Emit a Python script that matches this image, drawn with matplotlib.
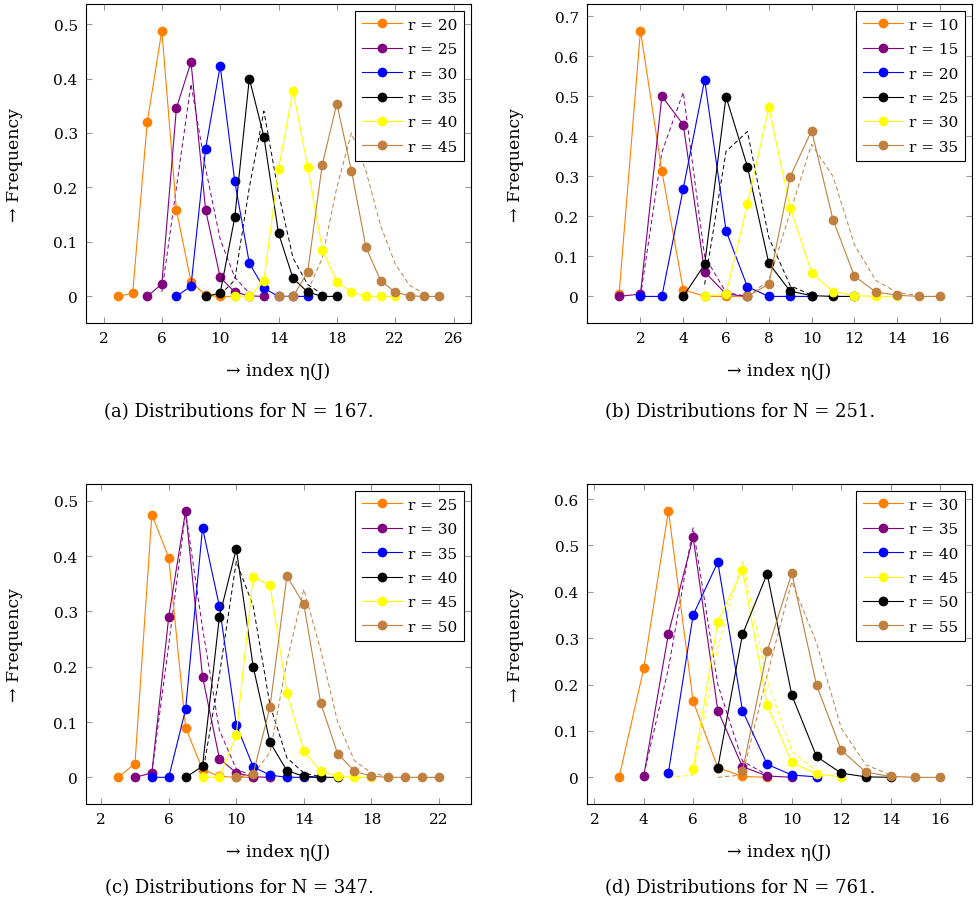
import numpy as np
import matplotlib.pyplot as plt
from matplotlib.ticker import FuncFormatter

plt.rcParams['font.family'] = ['DejaVu Serif']
plt.rcParams['font.size'] = 11

colors = {'orange': '#FF8000', 'purple': '#800080', 'blue': '#0000FF',
          'black': '#000000', 'yellow': '#FFFF00', 'brown': '#BF8040'}

# (a) N = 167 : radius, colour, first index, frequencies
a_r = [20, 25, 30, 35, 40, 45]
a_colors = ['orange', 'purple', 'blue', 'black', 'yellow', 'brown']
a_first = [3, 5, 7, 9, 11, 14]
a_f20 = [0, 0.006, 0.32, 0.488, 0.158, 0.027, 0.002, 0, 0]
a_f25 = [0, 0.023, 0.346, 0.43, 0.159, 0.035, 0.008, 0.001, 0]
a_f30 = [0, 0.019, 0.271, 0.423, 0.211, 0.061, 0.015, 0, 0, 0]
a_f35 = [0, 0.006, 0.145, 0.40, 0.293, 0.116, 0.033, 0.008, 0, 0]
a_f40 = [0, 0, 0.029, 0.234, 0.378, 0.238, 0.086, 0.027, 0.008, 0, 0, 0]
a_f45 = [0, 0, 0.045, 0.242, 0.354, 0.231, 0.09, 0.029, 0.008, 0.001, 0, 0]
# reference curves (dashed)
a_ref_colors = ['purple', 'black', 'brown']
a_ref_first = [6, 10, 16]
a_ref25 = [0.008, 0.2, 0.39, 0.235, 0.105, 0.035, 0.006]
a_ref35 = [0.003, 0.03, 0.2, 0.34, 0.19, 0.07, 0.022, 0.004]
a_ref45 = [0.01, 0.07, 0.2, 0.30, 0.23, 0.13, 0.06, 0.02, 0.005]

# (b) N = 251
b_r = [10, 15, 20, 25, 30, 35]
b_colors = ['orange', 'purple', 'blue', 'black', 'yellow', 'brown']
b_first = [1, 1, 2, 4, 5, 7]
b_f10 = [0.006, 0.664, 0.313, 0.017, 0, 0, 0]
b_f15 = [0, 0.006, 0.50, 0.429, 0.061, 0.006, 0]
b_f20 = [0, 0, 0.269, 0.541, 0.164, 0.024, 0, 0, 0]
b_f25 = [0, 0.08, 0.499, 0.324, 0.083, 0.013, 0.002, 0, 0]
b_f30 = [0, 0.006, 0.23, 0.472, 0.221, 0.059, 0.012, 0.002, 0, 0]
b_f35 = [0, 0.031, 0.299, 0.414, 0.192, 0.051, 0.011, 0.003, 0, 0]
b_ref_colors = ['purple', 'black', 'brown']
b_ref_first = [2, 5, 7]
b_ref15 = [0, 0.36, 0.51, 0.10, 0.01, 0]
b_ref25 = [0.03, 0.362, 0.412, 0.147, 0.027, 0.003]
b_ref35 = [0, 0.04, 0.21, 0.38, 0.30, 0.13, 0.04, 0.01, 0.002]

# (c) N = 347
c_r = [25, 30, 35, 40, 45, 50]
c_colors = ['orange', 'purple', 'blue', 'black', 'yellow', 'brown']
c_first = [3, 4, 5, 7, 8, 10]
c_f25 = [0, 0.025, 0.475, 0.397, 0.09, 0.014, 0.002, 0, 0]
c_f30 = [0, 0.008, 0.29, 0.482, 0.182, 0.034, 0.008, 0.001, 0]
c_f35 = [0, 0, 0.123, 0.451, 0.309, 0.095, 0.019, 0.004, 0, 0, 0]
c_f40 = [0, 0.02, 0.29, 0.413, 0.20, 0.063, 0.012, 0.002, 0, 0]
c_f45 = [0, 0, 0.077, 0.363, 0.347, 0.153, 0.047, 0.011, 0.002, 0, 0]
c_f50 = [0, 0.006, 0.128, 0.364, 0.3125, 0.134, 0.043, 0.011, 0.002, 0, 0, 0, 0]
c_ref_colors = ['purple', 'black', 'brown']
c_ref_first = [5, 8, 11]
c_ref30 = [0.008, 0.24, 0.48, 0.27, 0.085, 0.015, 0.002]
c_ref40 = [0.005, 0.185, 0.39, 0.31, 0.13, 0.035, 0.008, 0.001]
c_ref50 = [0.005, 0.045, 0.21, 0.34, 0.23, 0.1, 0.03, 0.008, 0.001]

# (d) N = 761
d_r = [30, 35, 40, 45, 50, 55]
d_colors = ['orange', 'purple', 'blue', 'yellow', 'black', 'brown']
d_first = [3, 4, 5, 6, 7, 8]
d_f30 = [0, 0.235, 0.575, 0.164, 0.021, 0.002, 0]
d_f35 = [0.003, 0.31, 0.518, 0.144, 0.023, 0.003, 0]
d_f40 = [0.01, 0.35, 0.464, 0.144, 0.028, 0.005, 0.001]
d_f45 = [0.018, 0.336, 0.447, 0.156, 0.032, 0.007, 0.001]
d_f50 = [0.021, 0.308, 0.439, 0.177, 0.045, 0.009, 0.001, 0]
d_f55 = [0.014, 0.272, 0.44, 0.199, 0.059, 0.011, 0.002, 0, 0]
d_ref_colors = ['purple', 'yellow', 'brown']
d_ref_first = [4, 5, 7]
d_ref35 = [0.005, 0.235, 0.538, 0.2, 0.035, 0.005]
d_ref45 = [0, 0.005, 0.28, 0.469, 0.21, 0.056, 0.013]
d_ref55 = [0, 0.005, 0.22, 0.422, 0.29, 0.106, 0.027, 0.005]

W, H = 977, 903
fig = plt.figure(figsize=(W / 100, H / 100), dpi=100)


def add_panel(left, top, right, bottom, radii, cols, first, freqs,
              ref_colors, ref_first, refs, xticks, yticks, caption,
              xlabel_y, caption_y):
    ax = fig.add_axes([left / W, 1 - bottom / H, (right - left) / W, (bottom - top) / H])
    for col, x0, ys in zip(ref_colors, ref_first, refs):
        ax.plot(np.arange(x0, x0 + len(ys)), ys, color=colors[col],
                lw=0.7, ls=(0, (4.5, 3)), zorder=2)
    for col, r, x0, ys in zip(cols, radii, first, freqs):
        ax.plot(np.arange(x0, x0 + len(ys)), ys, color=colors[col], lw=0.8,
                marker='o', ms=6, label=f'r = {r}', zorder=3)
    ax.margins(0.1)
    ax.set_xticks(xticks)
    ax.set_yticks(yticks)
    ax.yaxis.set_major_formatter(FuncFormatter(lambda v, p: '0' if abs(v) < 1e-9 else f'{v:g}'))
    ax.tick_params(direction='in', top=True, right=True, length=4.5,
                   width=0.8, color='#999999', pad=6)
    for s in ax.spines.values():
        s.set_linewidth(0.8)
    leg = ax.legend(loc='upper right', fancybox=False, edgecolor='black',
                    framealpha=1, borderaxespad=0.45, handlelength=2.6,
                    handletextpad=0.4, labelspacing=0.68, borderpad=0.45)
    leg.get_frame().set_linewidth(0.8)
    cx = (left + right) / 2
    fig.text(cx / W, 1 - xlabel_y / H, '→ index η(J)', ha='center', va='center',
             fontsize=12.5)
    # subfigure caption is centred under axes plus y label
    fig.text((cx - 39.5) / W, 1 - caption_y / H, caption, ha='center', va='center',
             fontsize=13)
    fig.text((left - 71) / W, 1 - ((top + bottom) / 2) / H, '→ Frequency',
             rotation=90, ha='center', va='center', fontsize=12.5)
    return ax


add_panel(86, 5, 471, 324, a_r, a_colors, a_first,
          [a_f20, a_f25, a_f30, a_f35, a_f40, a_f45],
          a_ref_colors, a_ref_first, [a_ref25, a_ref35, a_ref45],
          range(2, 27, 4), np.arange(0, 0.51, 0.1),
          '(a) Distributions for N = 167.', 372, 412)
add_panel(587, 5, 972, 324, b_r, b_colors, b_first,
          [b_f10, b_f15, b_f20, b_f25, b_f30, b_f35],
          b_ref_colors, b_ref_first, [b_ref15, b_ref25, b_ref35],
          range(2, 17, 2), np.arange(0, 0.71, 0.1),
          '(b) Distributions for N = 251.', 372, 412)
add_panel(86, 485, 471, 805, c_r, c_colors, c_first,
          [c_f25, c_f30, c_f35, c_f40, c_f45, c_f50],
          c_ref_colors, c_ref_first, [c_ref30, c_ref40, c_ref50],
          range(2, 23, 4), np.arange(0, 0.51, 0.1),
          '(c) Distributions for N = 347.', 853, 888)
add_panel(587, 485, 972, 805, d_r, d_colors, d_first,
          [d_f30, d_f35, d_f40, d_f45, d_f50, d_f55],
          d_ref_colors, d_ref_first, [d_ref35, d_ref45, d_ref55],
          range(2, 17, 2), np.arange(0, 0.61, 0.1),
          '(d) Distributions for N = 761.', 853, 888)

fig.savefig('out.png', dpi=100)
